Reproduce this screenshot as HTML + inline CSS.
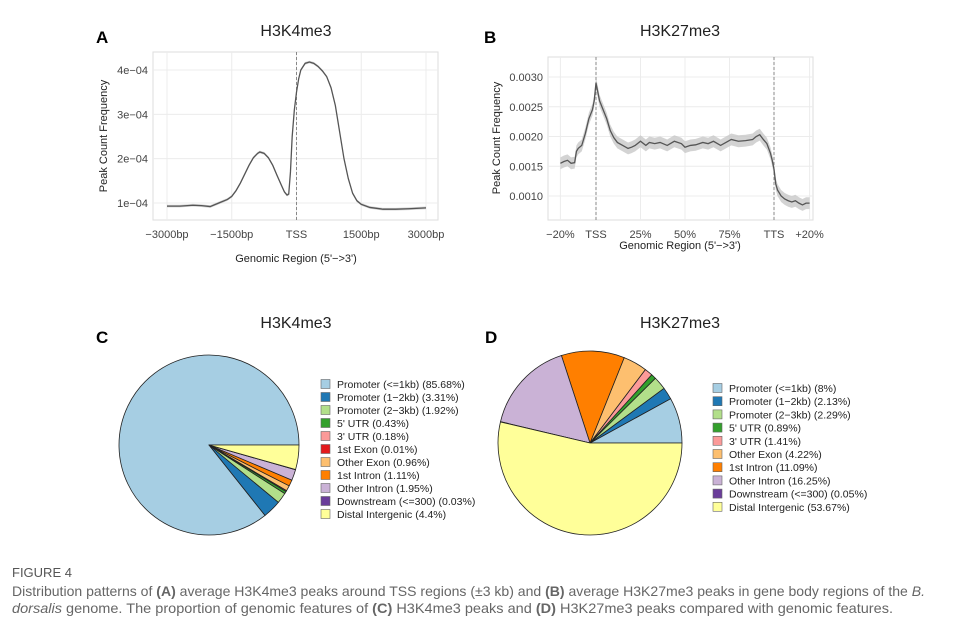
<!DOCTYPE html>
<html><head><meta charset="utf-8"><style>
body{margin:0;background:#fff;width:955px;height:628px;overflow:hidden;font-family:"Liberation Sans",sans-serif}
svg text{font-family:"Liberation Sans",sans-serif}
</style></head><body>
<svg id="fig" width="955" height="628" viewBox="0 0 955 628" xmlns="http://www.w3.org/2000/svg">
<g>
<text x="96" y="43" font-size="17" font-weight="bold">A</text>
<text x="296" y="36" font-size="16" text-anchor="middle" fill="#222">H3K4me3</text>
<rect x="153" y="52" width="285" height="168" fill="#fff" stroke="#ddd"/>
<g id="gA"></g>
<text x="296" y="262" font-size="11" text-anchor="middle" fill="#222">Genomic Region (5'−&gt;3')</text>
<text transform="translate(107,136) rotate(-90)" font-size="11" text-anchor="middle" fill="#222">Peak Count Frequency</text>
</g>
<g>
<text x="484" y="43" font-size="17" font-weight="bold">B</text>
<text x="680" y="36" font-size="16" text-anchor="middle" fill="#222">H3K27me3</text>
<rect x="548" y="57" width="265" height="163" fill="#fff" stroke="#ddd"/>
<g id="gB"></g>
<text x="680" y="249" font-size="11" text-anchor="middle" fill="#222">Genomic Region (5'−&gt;3')</text>
<text transform="translate(500,138) rotate(-90)" font-size="11" text-anchor="middle" fill="#222">Peak Count Frequency</text>
</g>
<g>
<text x="96" y="343" font-size="17" font-weight="bold">C</text>
<text x="296" y="328" font-size="16" text-anchor="middle" fill="#222">H3K4me3</text>
<g id="gC"></g>
</g>
<g>
<text x="485" y="343" font-size="17" font-weight="bold">D</text>
<text x="680" y="328" font-size="16" text-anchor="middle" fill="#222">H3K27me3</text>
<g id="gD"></g>
</g>
<g fill="#666" font-size="14">
<text x="12" y="577" font-size="13" fill="#555">FIGURE 4</text>
<text x="12" y="596" textLength="913" lengthAdjust="spacingAndGlyphs">Distribution patterns of <tspan font-weight="bold">(A)</tspan> average H3K4me3 peaks around TSS regions (±3 kb) and <tspan font-weight="bold">(B)</tspan> average H3K27me3 peaks in gene body regions of the <tspan font-style="italic">B.</tspan></text>
<text x="12" y="613" textLength="881" lengthAdjust="spacingAndGlyphs"><tspan font-style="italic">dorsalis</tspan> genome. The proportion of genomic features of <tspan font-weight="bold">(C)</tspan> H3K4me3 peaks and <tspan font-weight="bold">(D)</tspan> H3K27me3 peaks compared with genomic features.</text>
</g>
</svg>
<script>
// Panel A data (bp, frequency x1e-4)
const aX=[-3000,-2700,-2400,-2200,-2000,-1800,-1600,-1500,-1400,-1300,-1200,-1100,-1000,-900,-850,-750,-650,-550,-450,-350,-280,-220,-180,-140,-100,-50,0,50,100,200,300,400,500,600,700,800,900,1000,1100,1200,1300,1400,1500,1700,2000,2300,2600,3000];
const aY=[0.93,0.93,0.95,0.94,0.92,1.0,1.08,1.15,1.28,1.45,1.65,1.85,2.02,2.12,2.15,2.12,2.02,1.85,1.62,1.4,1.25,1.18,1.2,1.7,2.5,3.1,3.5,3.8,4.0,4.15,4.18,4.15,4.08,3.98,3.85,3.6,3.2,2.6,2.0,1.55,1.22,1.05,0.97,0.9,0.86,0.86,0.87,0.89];
const aXTicks=[-3000,-1500,0,1500,3000];
const aXLabels=["−3000bp","−1500bp","TSS","1500bp","3000bp"];
const aYTicks=[1,2,3,4];
const aYLabels=["1e−04","2e−04","3e−04","4e−04"];
// Panel B data (percent of gene body, frequency x1e-3)
const bX=[-20,-18,-16,-14,-12,-11,-10,-8,-6,-4,-2,-1,0,1,2,4,6,8,10,12,15,18,20,22,25,28,30,33,36,40,44,48,50,53,56,60,63,66,70,73,76,80,84,88,90,92,94,96,98,99,100,101,102,104,106,108,110,112,114,116,118,120];
const bY=[1.55,1.58,1.6,1.55,1.56,1.75,1.8,1.85,2.05,2.3,2.45,2.6,2.9,2.75,2.6,2.45,2.3,2.1,1.98,1.9,1.85,1.8,1.82,1.85,1.92,1.85,1.9,1.88,1.9,1.85,1.92,1.88,1.82,1.85,1.86,1.9,1.88,1.92,1.85,1.9,1.95,1.92,1.93,1.95,2.0,2.03,1.95,1.88,1.72,1.6,1.45,1.2,1.1,1.0,0.95,0.92,0.9,0.92,0.88,0.85,0.88,0.88];
const bXTicks=[-20,0,25,50,75,100,120];
const bXLabels=["−20%","TSS","25%","50%","75%","TTS","+20%"];
const bYTicks=[1.0,1.5,2.0,2.5,3.0];
const bYLabels=["0.0010","0.0015","0.0020","0.0025","0.0030"];
// Pie data
const pieLabels=["Promoter (<=1kb)","Promoter (1−2kb)","Promoter (2−3kb)","5' UTR","3' UTR","1st Exon","Other Exon","1st Intron","Other Intron","Downstream (<=300)","Distal Intergenic"];
const pieColors=["#a6cee3","#1f78b4","#b2df8a","#33a02c","#fb9a99","#e31a1c","#fdbf6f","#ff7f00","#cab2d6","#6a3d9a","#ffff99"];
const cValues=[85.68,3.31,1.92,0.43,0.18,0.01,0.96,1.11,1.95,0.03,4.4];
const dLabels=["Promoter (<=1kb)","Promoter (1−2kb)","Promoter (2−3kb)","5' UTR","3' UTR","Other Exon","1st Intron","Other Intron","Downstream (<=300)","Distal Intergenic"];
const dColors=["#a6cee3","#1f78b4","#b2df8a","#33a02c","#fb9a99","#fdbf6f","#ff7f00","#cab2d6","#6a3d9a","#ffff99"];
const dValues=[8,2.13,2.29,0.89,1.41,4.22,11.09,16.25,0.05,53.67];

const NS="http://www.w3.org/2000/svg";
function mk(parent,tag,attrs){const e=document.createElementNS(NS,tag);for(const k in attrs)e.setAttribute(k,attrs[k]);parent.appendChild(e);return e;}
function lin(d0,d1,r0,r1){return v=>r0+(v-d0)*(r1-r0)/(d1-d0);}

function lineChart(g,xs,ys,xT,xL,yT,yL,sx,sy,box,vlines,band,pre){
  xT.forEach(t=>{const l=mk(g,'line',{x1:sx(t),x2:sx(t),y1:box.y0,y2:box.y1,stroke:'#ececec'});
    
    });
  yT.forEach(t=>{const l=mk(g,'line',{x1:box.x0,x2:box.x1,y1:sy(t),y2:sy(t),stroke:'#ececec'});
    
    });
  let up=xs.map((x,i)=>sx(x)+','+sy(ys[i]+band)).join(' ');
  let dn=xs.map((x,i)=>sx(x)+','+sy(ys[i]-band)).reverse().join(' ');
  const p=mk(g,'polygon',{points:up+' '+dn,fill:'#c8c8c8',opacity:0.8});
  
  
  vlines.forEach(v=>{const l=mk(g,'line',{x1:sx(v),x2:sx(v),y1:box.y0,y2:box.y1,stroke:'#888','stroke-dasharray':'3,2'});
    
    });
  const ln=mk(g,'polyline',{points:xs.map((x,i)=>sx(x)+','+sy(ys[i])).join(' '),fill:'none',stroke:'#555','stroke-width':1.3});
  
  
  xT.forEach((t,i)=>{const tx=mk(g,'text',{x:sx(t),y:box.y1+18,'font-size':11,'text-anchor':'middle',fill:'#444'});tx.textContent=xL[i];
    
    });
  yT.forEach((t,i)=>{const tx=mk(g,'text',{x:box.x0-5,y:sy(t)+4,'font-size':11,'text-anchor':'end',fill:'#444'});tx.textContent=yL[i];
    
    });
}
lineChart(document.getElementById('gA'),aX,aY,aXTicks,aXLabels,aYTicks,aYLabels,
  lin(-3000,3000,167,426),lin(1,4,203,70),{x0:153,x1:438,y0:52,y1:220},[0],0.03,'chart-a-');
lineChart(document.getElementById('gB'),bX,bY,bXTicks,bXLabels,bYTicks,bYLabels,
  lin(0,100,596,774),lin(1,3,196,77),{x0:548,x1:813,y0:57,y1:220},[0,100],0.1,'chart-b-');

function pie(g,vals,cols,labs,cx,cy,r,lx,ly,step,pre){
  const tot=vals.reduce((a,b)=>a+b,0);let a=0;
  vals.forEach((v,i)=>{
    const a0=a,a1=a+v/tot*2*Math.PI;a=a1;
    const x0=cx+r*Math.cos(a0),y0=cy-r*Math.sin(a0),x1=cx+r*Math.cos(a1),y1=cy-r*Math.sin(a1);
    const large=(a1-a0)>Math.PI?1:0;
    const s=mk(g,'path',{d:`M${cx},${cy}L${x0},${y0}A${r},${r} 0 ${large} 0 ${x1},${y1}Z`,fill:cols[i],stroke:'#222','stroke-width':0.8});
    
    
  });
  labs.forEach((l,i)=>{
    const y=ly+i*step;
    const sq=mk(g,'rect',{x:lx,y:y-4.5,width:9,height:9,fill:cols[i],stroke:'#666','stroke-width':0.6});
    
    
    const t=mk(g,'text',{x:lx+16,y:y+4,'font-size':10.5,fill:'#222'});t.textContent=l+' ('+vals[i]+'%)';
    
    
  });
}
pie(document.getElementById('gC'),cValues,pieColors,pieLabels,209,445,90,321,384,13,'chart-c-');
pie(document.getElementById('gD'),dValues,dColors,dLabels,590,443,92,713,388,13.2,'chart-d-');
</script>
</body></html>
